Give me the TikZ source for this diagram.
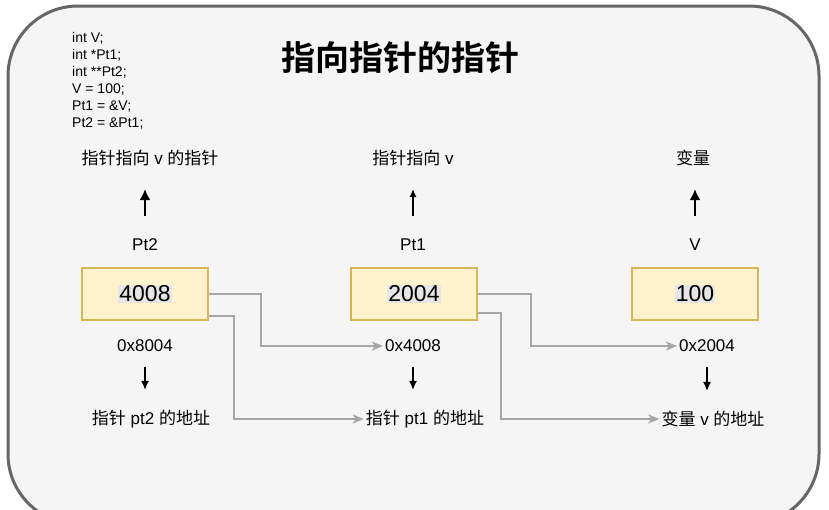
\documentclass[tikz,border=0pt]{standalone}
\usepackage{fontspec}
\setmainfont{Liberation Sans}
\newfontfamily\cjk{Noto Sans CJK SC}[BoldFont={Noto Sans CJK SC Bold}]
\usetikzlibrary{arrows.meta}
\definecolor{frame}{HTML}{666666}
\definecolor{panel}{HTML}{F5F5F5}
\definecolor{cellfill}{HTML}{FFF2CC}
\definecolor{celldraw}{HTML}{D6B656}
\definecolor{hl}{HTML}{E6E6E6}
\definecolor{link}{HTML}{A6A6A6}
\tikzset{
  lbl/.style={font=\fontsize{17}{20}\selectfont, inner sep=2pt},
  cell/.style={draw=celldraw, fill=cellfill, line width=1.8pt, minimum width=126pt, minimum height=52pt, font=\fontsize{23}{26}\selectfont},
  linkarrow/.style={draw=link, line width=2pt, -{Stealth[length=11pt,width=9pt,inset=3pt]}},
  uparrow/.style={black, line width=2.4pt, -{Latex[length=11pt,width=11pt]}, shorten <=21pt, shorten >=21pt},
  downarrow/.style={black, line width=1.3pt, -{Latex[length=9pt,width=8pt]}, shorten <=13pt, shorten >=18pt},
}
\setlength{\fboxsep}{1pt}
\begin{document}
\begin{tikzpicture}[x=1pt,y=-1pt]
  \useasboundingbox (0,0) rectangle (829,509);
  \draw[frame, fill=panel, line width=3pt, rounded corners=70pt] (8,6) rectangle (819,524);
  % code and title
  \node[anchor=north west, align=left, inner sep=0pt, font=\fontsize{14}{17}\selectfont] (code) at (72,32)
    {int V;\\int *Pt1;\\int **Pt2;\\V = 100;\\Pt1 = \&V;\\Pt2 = \&Pt1;};
  \node[font=\cjk\bfseries\fontsize{34}{38}\selectfont] (title) at (400,58) {指向指针的指针};
  % what each one is
  \node[lbl] (what2) at (150,158) {{\cjk 指针指向} v {\cjk 的指针}};
  \node[lbl] (what1) at (413,158) {{\cjk 指针指向} v};
  \node[lbl] (whatv) at (693,158) {\cjk 变量};
  \node[lbl] (name2) at (145,245) {Pt2};
  \node[lbl] (name1) at (413,245) {Pt1};
  \node[lbl] (namev) at (695,245) {V};
  \draw[uparrow] (name2.north) -- (what2.south -| name2.north);
  \draw[uparrow, line width=1.3pt, -{Latex[length=8pt,width=7pt]}] (name1.north) -- (what1.south);
  \draw[uparrow] (namev.north) -- (whatv.south -| namev.north);
  % memory cells
  \node[cell] (box2) at (145,294) {\colorbox{hl}{4008}};
  \node[cell] (box1) at (414,294) {\colorbox{hl}{2004}};
  \node[cell] (boxv) at (695,294) {\colorbox{hl}{100}};
  % addresses
  \node[lbl] (addr2) at (145,346) {0x8004};
  \node[lbl] (addr1) at (413,346) {0x4008};
  \node[lbl] (addrv) at (707,346) {0x2004};
  \node[lbl] (where2) at (151,419) {{\cjk 指针} pt2 {\cjk 的地址}};
  \node[lbl] (where1) at (425,419) {{\cjk 指针} pt1 {\cjk 的地址}};
  \node[lbl] (wherev) at (713,419) {{\cjk 变量} v {\cjk 的地址}};
  \draw[downarrow] (addr2.south) -- (addr2.south |- where2.north);
  \draw[downarrow] (addr1.south) -- (addr1.south |- where1.north);
  \draw[downarrow] (addrv.south) -- (addrv.south |- wherev.north);
  % links
  \draw[linkarrow] (box2.east) -- ++(52,0) |- (addr1.west);
  \draw[linkarrow] ([yshift=-22pt]box2.east) -- ++(25,0) |- (where1.west);
  \draw[linkarrow] (box1.east) -- ++(53,0) |- (addrv.west);
  \draw[linkarrow] ([yshift=-19pt]box1.east) -- ++(23,0) |- (wherev.west);
\end{tikzpicture}
\end{document}
